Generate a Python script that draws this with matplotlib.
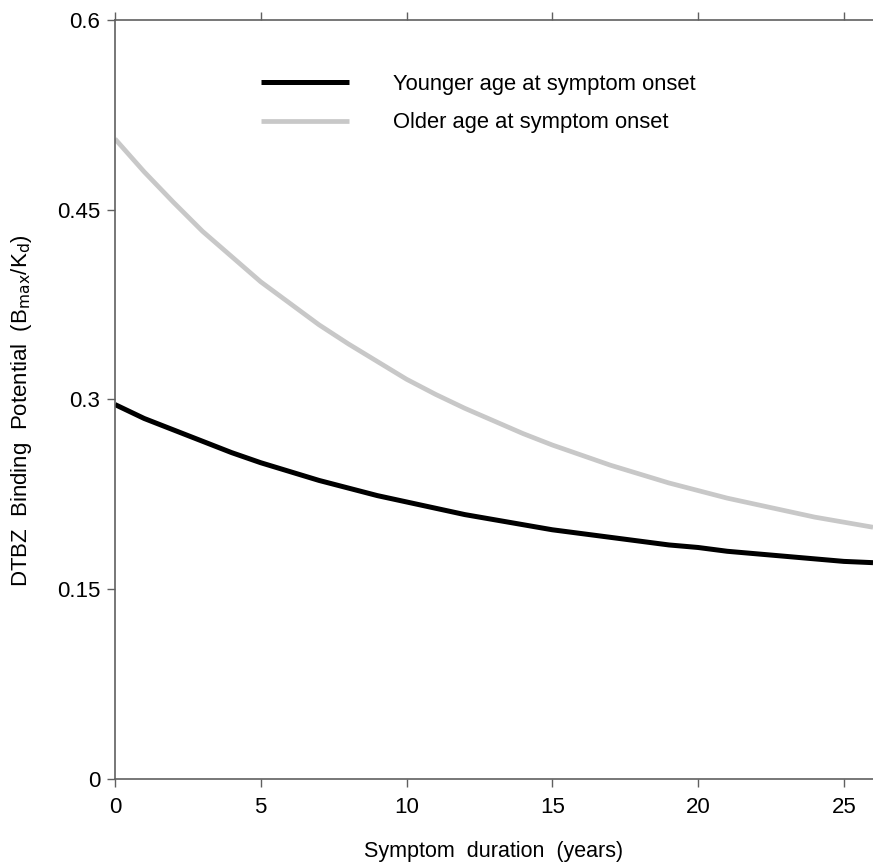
"""
DTBZ binding potential vs symptom duration, younger vs older onset.
"""

import numpy as np
from matplotlib import pyplot as plt

plt.rcParams['font.family'] = ['Liberation Sans', 'DejaVu Sans']

### data ###
years = list(range(0, 27))
younger_onset = [0.296, 0.285, 0.276, 0.267, 0.258, 0.250, 0.243, 0.236, 0.230,
                 0.224, 0.219, 0.214, 0.209, 0.205, 0.201, 0.197, 0.194, 0.191,
                 0.188, 0.185, 0.183, 0.180, 0.178, 0.176, 0.174, 0.172, 0.171]
older_onset = [0.506, 0.480, 0.456, 0.433, 0.413, 0.393, 0.376, 0.359, 0.344,
               0.330, 0.316, 0.304, 0.293, 0.283, 0.273, 0.264, 0.256, 0.248,
               0.241, 0.234, 0.228, 0.222, 0.217, 0.212, 0.207, 0.203, 0.199]
series_labels = ["Younger age at symptom onset", "Older age at symptom onset"]

xticks = [0, 5, 10, 15, 20, 25]
yticks = [0, 0.15, 0.3, 0.45, 0.6]
ytick_labels = ["0", "0.15", "0.3", "0.45", "0.6"]

spine_col = '#606060'

fig = plt.figure(figsize=(8.73, 8.64), dpi=100)
ax = fig.add_axes([0.1317, 0.0984, 0.8683, 0.8785])

ax.plot(years, younger_onset, color='black', linewidth=3.6,
        solid_capstyle='butt', solid_joinstyle='round', label=series_labels[0])
ax.plot(years, older_onset, color='#c8c8c8', linewidth=3.4,
        solid_capstyle='butt', solid_joinstyle='round', label=series_labels[1])

ax.set_xlim(0, 26)
ax.set_ylim(0, 0.6)
ax.set_xticks(xticks)
ax.set_yticks(yticks)
ax.set_yticklabels(ytick_labels)

# left / bottom / top spines, nothing on the right
ax.spines['right'].set_visible(False)
for s in ['left', 'bottom', 'top']:
    ax.spines[s].set_color(spine_col)
    ax.spines[s].set_linewidth(1.2)

ax.tick_params(axis='both', which='major', direction='out', length=5.5,
               width=1.0, color=spine_col, labelsize=16, pad=5)
ax.tick_params(axis='x', top=True, labeltop=False, pad=7.5)

ax.set_xlabel("Symptom  duration  (years)", fontsize=15.5, va='center')
ax.xaxis.set_label_coords(0.5, -0.095)
ax.set_ylabel(r"DTBZ  Binding  Potential  (B$_{\mathrm{max}}$/K$_{\mathrm{d}}$)",
              fontsize=16, va='center')
ax.yaxis.set_label_coords(-0.123, 0.485)

ax.legend(loc='upper left', bbox_to_anchor=(0.1926, 0.929), frameon=False,
          fontsize=15.8, handlelength=4.0, handletextpad=2.0,
          labelspacing=0.8, borderpad=0, borderaxespad=0)

plt.savefig("out.png", dpi=100)
